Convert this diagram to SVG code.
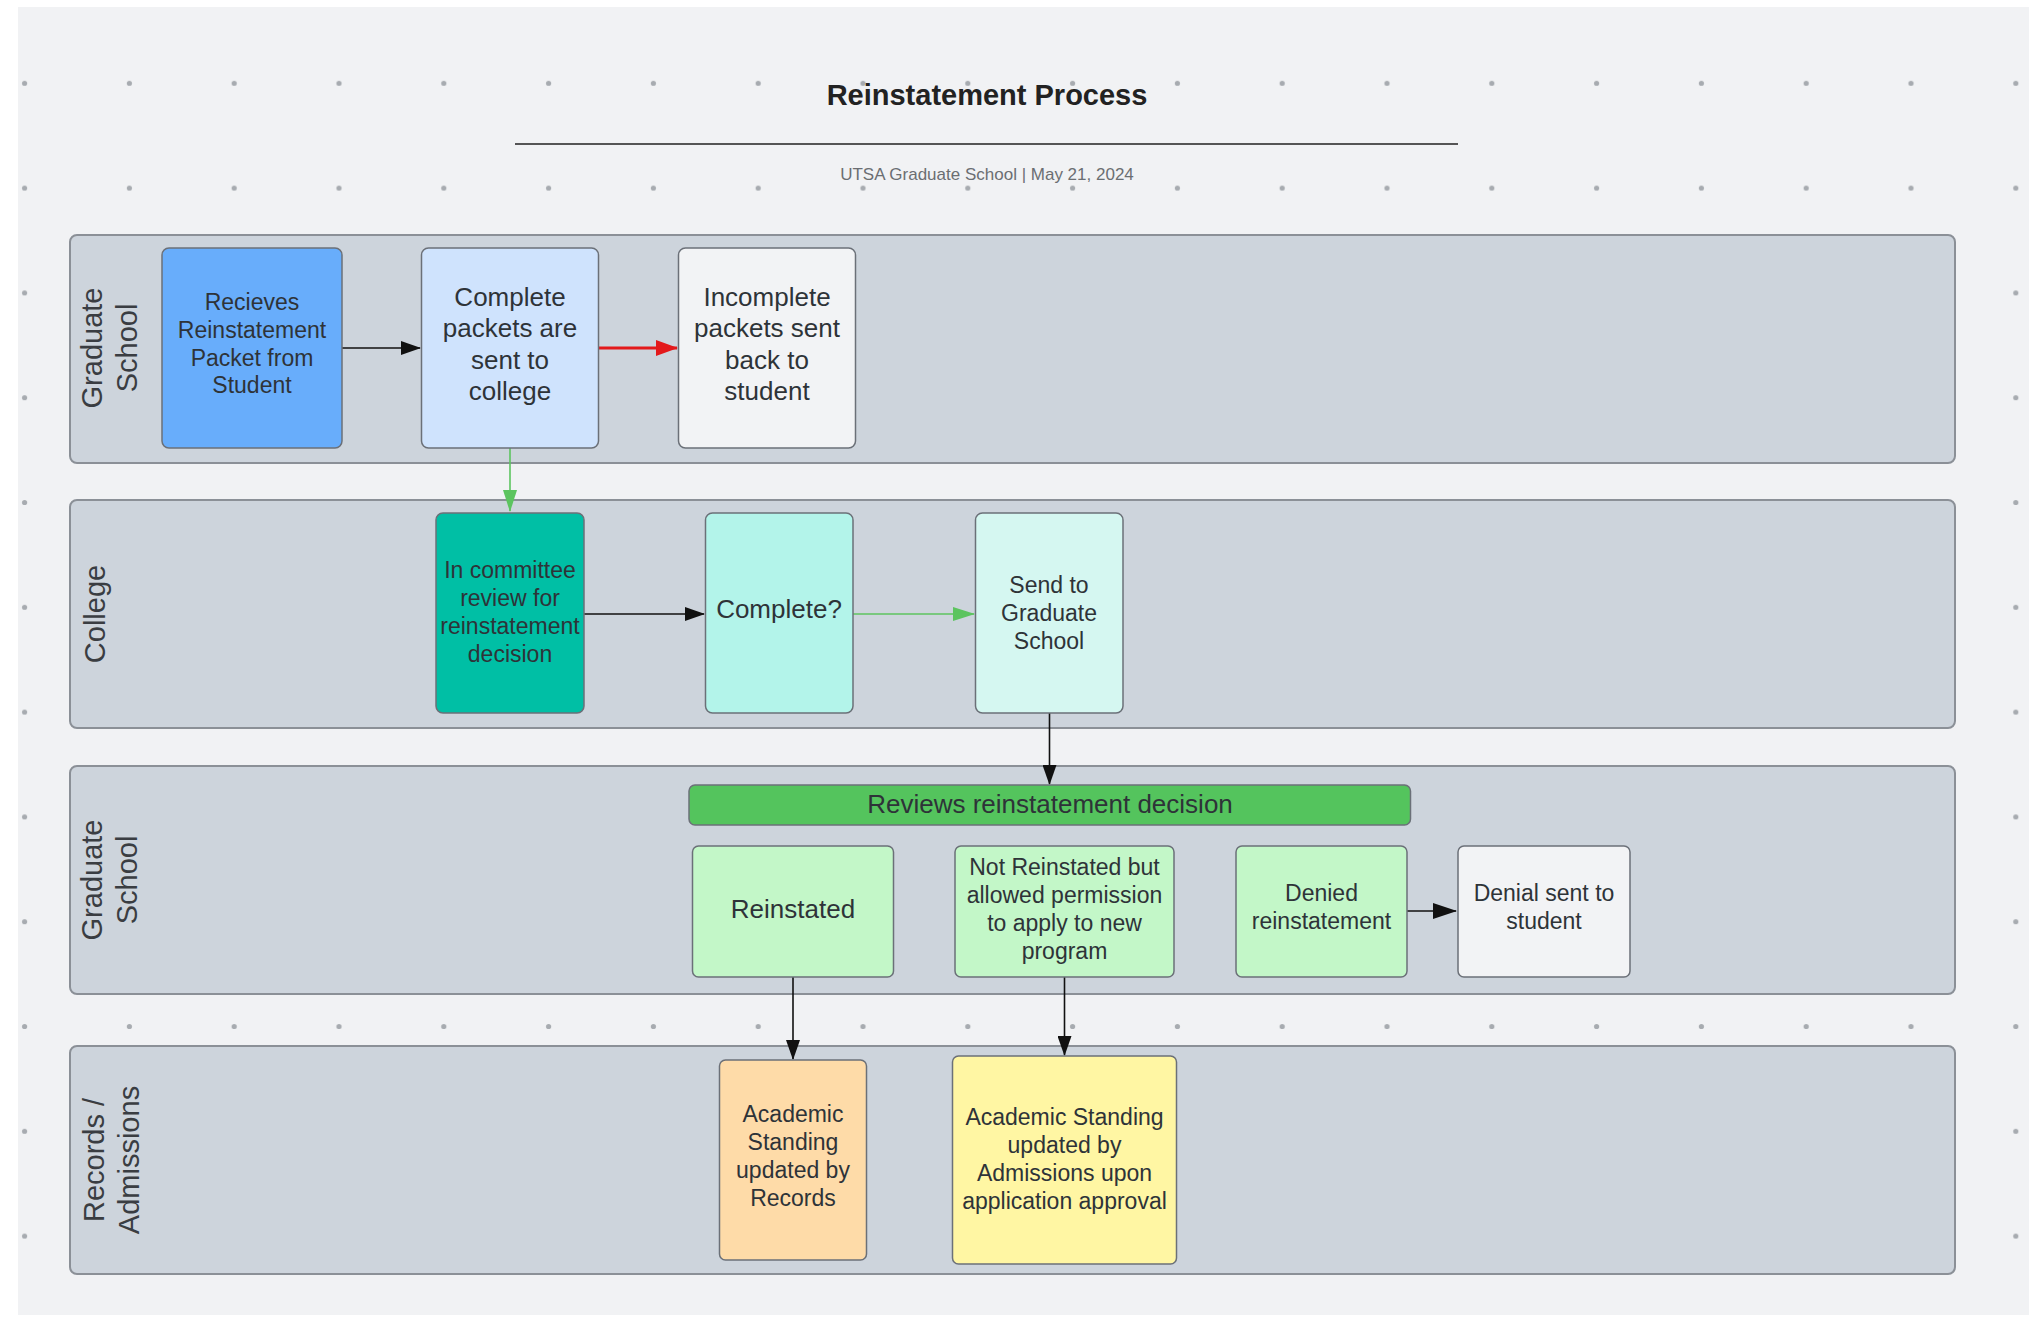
<svg xmlns="http://www.w3.org/2000/svg" width="2029" height="1317" viewBox="0 0 2029 1317">
  <style>
    .lane { fill: #cdd4dc; stroke: #8b9097; stroke-width: 2; }
    .lanelabel { font-family: "Liberation Sans", Arial, sans-serif; font-size: 29px; fill: #3a3d42; text-anchor: middle; }
    .node { stroke: #6b7078; stroke-width: 1.5; }
    .t23 { font-family: "Liberation Sans", Arial, sans-serif; font-size: 23px; fill: #2e3338; text-anchor: middle; }
    .t26 { font-family: "Liberation Sans", Arial, sans-serif; font-size: 26px; fill: #2e3338; text-anchor: middle; }
    .conn { fill: none; stroke-width: 1.6; }
    .black { stroke: #111; }
    .red { stroke: #e3191b; stroke-width: 3; }
    .green { stroke: #5cc45f; }
  </style>
  <defs>
    <pattern id="dots" patternUnits="userSpaceOnUse" x="-27.8" y="30.9" width="104.8" height="104.8">
      <circle cx="52.4" cy="52.4" r="2.6" fill="#a7abb0"/>
    </pattern>
    <marker id="ah-black" markerUnits="userSpaceOnUse" viewBox="0 0 20 14" markerWidth="20" markerHeight="14" refX="19" refY="7" orient="auto">
      <path d="M0,0 L20,7 L0,14 z" fill="#111"/>
    </marker>
    <marker id="ah-black-big" markerUnits="userSpaceOnUse" viewBox="0 0 24 16" markerWidth="24" markerHeight="16" refX="23" refY="8" orient="auto">
      <path d="M0,0 L24,8 L0,16 z" fill="#111"/>
    </marker>
    <marker id="ah-red" markerUnits="userSpaceOnUse" viewBox="0 0 22 16" markerWidth="22" markerHeight="16" refX="21" refY="8" orient="auto">
      <path d="M0,0 L22,8 L0,16 z" fill="#e3191b"/>
    </marker>
    <marker id="ah-green" markerUnits="userSpaceOnUse" viewBox="0 0 22 14" markerWidth="22" markerHeight="14" refX="21" refY="7" orient="auto">
      <path d="M0,0 L22,7 L0,14 z" fill="#5cc45f"/>
    </marker>
  </defs>

  <!-- background -->
  <rect x="0" y="0" width="2029" height="1317" fill="#ffffff"/>
  <rect x="18" y="7" width="2011" height="1308" fill="#f1f2f4"/>
  <rect x="18" y="7" width="2011" height="1308" fill="url(#dots)"/>

  <!-- title -->
  <g id="title">
    <text x="987" y="105" font-family="Liberation Sans, Arial, sans-serif" font-size="29" font-weight="bold" fill="#222" text-anchor="middle">Reinstatement Process</text>
    <line x1="515" y1="144" x2="1458" y2="144" stroke="#555" stroke-width="2"/>
    <text x="987" y="180" font-family="Liberation Sans, Arial, sans-serif" font-size="17" fill="#6b6e72" text-anchor="middle">UTSA Graduate School | May 21, 2024</text>
  </g>

  <!-- lanes -->
  <g id="lane-graduate-1">
    <rect class="lane" x="70" y="235" width="1885" height="228" rx="7"/>
    <text class="lanelabel" transform="translate(0,348) rotate(-90)"><tspan x="0" y="102">Graduate</tspan><tspan x="0" y="137">School</tspan></text>
  </g>
  <g id="lane-college">
    <rect class="lane" x="70" y="500" width="1885" height="228" rx="7"/>
    <text class="lanelabel" transform="translate(0,614) rotate(-90)"><tspan x="0" y="105">College</tspan></text>
  </g>
  <g id="lane-graduate-2">
    <rect class="lane" x="70" y="766" width="1885" height="228" rx="7"/>
    <text class="lanelabel" transform="translate(0,880) rotate(-90)"><tspan x="0" y="102">Graduate</tspan><tspan x="0" y="137">School</tspan></text>
  </g>
  <g id="lane-records">
    <rect class="lane" x="70" y="1046" width="1885" height="228" rx="7"/>
    <text class="lanelabel" transform="translate(0,1160) rotate(-90)"><tspan x="0" y="104">Records /</tspan><tspan x="0" y="139">Admissions</tspan></text>
  </g>

  <!-- connectors -->
  <g id="connectors">
    <line class="conn black" x1="342" y1="348" x2="420" y2="348" marker-end="url(#ah-black)"/>
    <line class="conn red" x1="599" y1="348" x2="677" y2="348" marker-end="url(#ah-red)"/>
    <line class="conn green" x1="510" y1="448" x2="510" y2="511" marker-end="url(#ah-green)"/>
    <line class="conn black" x1="584" y1="614" x2="704" y2="614" marker-end="url(#ah-black)"/>
    <line class="conn green" x1="853" y1="614" x2="974" y2="614" marker-end="url(#ah-green)"/>
    <line class="conn black" x1="1049.5" y1="713" x2="1049.5" y2="784" stroke-width="2" marker-end="url(#ah-black)"/>
    <line class="conn black" x1="1407" y1="911" x2="1456" y2="911" stroke-width="3.2" marker-end="url(#ah-black-big)"/>
    <line class="conn black" x1="793" y1="977" x2="793" y2="1059" marker-end="url(#ah-black)"/>
    <line class="conn black" x1="1064.5" y1="977" x2="1064.5" y2="1055" stroke-width="2" marker-end="url(#ah-black)"/>
  </g>

  <!-- lane 1 nodes -->
  <g id="node-receives">
    <rect class="node" x="162" y="248" width="180" height="200" rx="7" fill="#68adfb"/>
    <text class="t23" fill="#253240"><tspan x="252" y="310">Recieves</tspan><tspan x="252" y="338">Reinstatement</tspan><tspan x="252" y="366">Packet from</tspan><tspan x="252" y="393">Student</tspan></text>
  </g>
  <g id="node-complete-packets">
    <rect class="node" x="421.5" y="248" width="177" height="200" rx="7" fill="#cfe3fd"/>
    <text class="t26"><tspan x="510" y="305.5">Complete</tspan><tspan x="510" y="337">packets are</tspan><tspan x="510" y="368.5">sent to</tspan><tspan x="510" y="400">college</tspan></text>
  </g>
  <g id="node-incomplete">
    <rect class="node" x="678.5" y="248" width="177" height="200" rx="7" fill="#f2f3f5"/>
    <text class="t26"><tspan x="767" y="305.5">Incomplete</tspan><tspan x="767" y="337">packets sent</tspan><tspan x="767" y="368.5">back to</tspan><tspan x="767" y="400">student</tspan></text>
  </g>

  <!-- lane 2 nodes -->
  <g id="node-committee">
    <rect class="node" x="436" y="513" width="148" height="200" rx="7" fill="#00bfa5"/>
    <text class="t23" fill="#17302b"><tspan x="510" y="578">In committee</tspan><tspan x="510" y="606">review for</tspan><tspan x="510" y="634">reinstatement</tspan><tspan x="510" y="661.5">decision</tspan></text>
  </g>
  <g id="node-complete-q">
    <rect class="node" x="705.5" y="513" width="147.5" height="200" rx="7" fill="#b3f4ea"/>
    <text class="t26" x="779" y="618">Complete?</text>
  </g>
  <g id="node-send-grad">
    <rect class="node" x="975.5" y="513" width="147.5" height="200" rx="7" fill="#d5f7f1"/>
    <text class="t23"><tspan x="1049" y="592.5">Send to</tspan><tspan x="1049" y="620.5">Graduate</tspan><tspan x="1049" y="648.5">School</tspan></text>
  </g>

  <!-- lane 3 nodes -->
  <g id="node-reviews">
    <rect class="node" x="689" y="785" width="721.5" height="40" rx="6" fill="#54c45d"/>
    <text class="t26" x="1050" y="813" fill="#1c2e1d">Reviews reinstatement decision</text>
  </g>
  <g id="node-reinstated">
    <rect class="node" x="692.5" y="846" width="201" height="131" rx="6" fill="#c3f7c8"/>
    <text class="t26" x="793" y="918">Reinstated</text>
  </g>
  <g id="node-not-reinstated">
    <rect class="node" x="955" y="846" width="219" height="131" rx="6" fill="#c3f7c8"/>
    <text class="t23"><tspan x="1064.5" y="875">Not Reinstated but</tspan><tspan x="1064.5" y="903">allowed permission</tspan><tspan x="1064.5" y="931">to apply to new</tspan><tspan x="1064.5" y="959">program</tspan></text>
  </g>
  <g id="node-denied">
    <rect class="node" x="1236" y="846" width="171" height="131" rx="6" fill="#c3f7c8"/>
    <text class="t23"><tspan x="1321.5" y="901">Denied</tspan><tspan x="1321.5" y="929">reinstatement</tspan></text>
  </g>
  <g id="node-denial-sent">
    <rect class="node" x="1458" y="846" width="172" height="131" rx="6" fill="#f2f3f5"/>
    <text class="t23"><tspan x="1544" y="901">Denial sent to</tspan><tspan x="1544" y="929">student</tspan></text>
  </g>

  <!-- lane 4 nodes -->
  <g id="node-records">
    <rect class="node" x="719.5" y="1060" width="147" height="200" rx="6" fill="#fedba8"/>
    <text class="t23"><tspan x="793" y="1121.5">Academic</tspan><tspan x="793" y="1149.5">Standing</tspan><tspan x="793" y="1177.5">updated by</tspan><tspan x="793" y="1205.5">Records</tspan></text>
  </g>
  <g id="node-admissions">
    <rect class="node" x="952.5" y="1056" width="224" height="208" rx="6" fill="#fff6a3"/>
    <text class="t23"><tspan x="1064.5" y="1125">Academic Standing</tspan><tspan x="1064.5" y="1153">updated by</tspan><tspan x="1064.5" y="1181">Admissions upon</tspan><tspan x="1064.5" y="1209">application approval</tspan></text>
  </g>
</svg>
